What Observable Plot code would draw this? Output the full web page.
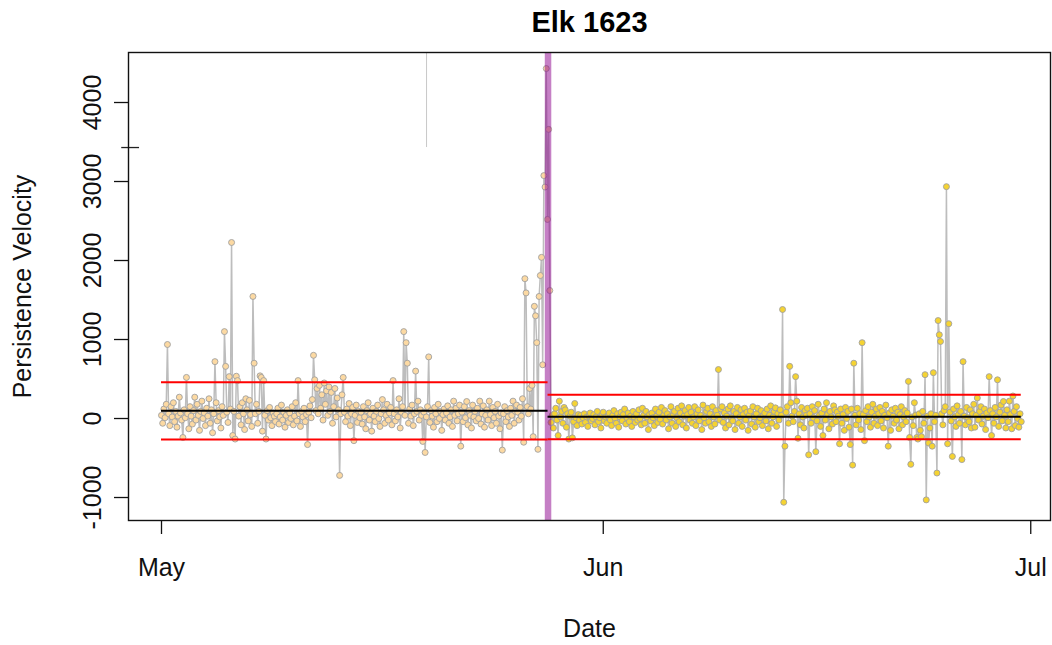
<!DOCTYPE html>
<html><head><meta charset="utf-8">
<script src="https://cdn.jsdelivr.net/npm/d3@7"></script>
<script src="https://cdn.jsdelivr.net/npm/@observablehq/plot@0.6"></script>
<style>body{margin:0;background:#fff}svg{display:block}</style>
</head><body><div id="chart"></div>
<script>
// ---- data ----
const title = "Elk 1623";
const xLabel = "Date";
const yLabel = "Persistence Velocity";
const startTime = "2019-05-01T00:00Z";   // first fix
const stepHours = 2;                      // fix interval
// segment 1 (before change point), one row per day
const seg1 = [
 40,-60,120,10,180,937,60,-90,150,20,200,-40,
 90,-110,30,270,70,-20,-240,110,10,520,60,-130,
 150,30,-70,100,270,-20,180,40,-150,90,220,0,
 70,-90,130,30,250,-60,110,-180,60,720,200,-30,
 100,20,-120,150,40,1100,660,80,-50,530,120,2228,
 -215,90,-260,535,480,30,150,-80,200,60,-140,250,
 110,-30,230,50,-100,1545,700,60,180,-60,90,540,
 520,-160,480,40,-260,100,-20,140,10,-90,70,30,
 -40,60,130,-70,20,170,-20,80,-110,40,110,-50,
 70,0,150,-80,30,200,-30,480,60,-100,90,20,
 130,-40,50,-330,80,160,10,240,800,490,100,380,
 60,420,130,300,-20,450,180,350,40,400,90,330,
 -60,150,380,20,260,110,-720,60,300,520,80,-40,
 120,30,190,-90,60,140,-280,40,170,-50,90,10,
 80,-70,150,20,-130,100,200,-20,60,-160,130,30,
 -40,90,170,0,-100,60,240,110,-60,40,180,-20,
 70,140,-80,480,60,-30,110,20,250,-120,80,150,
 1100,40,960,700,-60,120,30,170,-90,60,600,90,
 220,-20,110,40,-290,80,-430,20,150,780,-50,100,
 30,-110,140,60,-40,180,0,90,-150,50,120,-20,
 70,160,-60,20,110,-100,220,40,130,-30,60,170,
 -350,80,-40,150,10,215,-80,100,40,-120,170,20,
 90,-30,130,0,220,-70,60,160,-110,40,110,-20,
 220,50,-90,140,10,90,-60,180,30,-130,70,-400,
 60,150,-40,100,20,-100,130,40,220,-60,90,170,
 80,-20,140,30,250,-300,1770,1590,150,60,380,120,
 420,-230,1420,1300,960,-390,1545,1810,2040,680,3075,2930,
 4430,2520,3660,1620
];
// segment 2 (after change point), continues the same fix sequence
const seg2 = [
 -50,40,-120,60,130,-20,-215,220,20,90,-60,140,
 110,-110,60,-260,30,80,-245,-40,190,10,-90,50,
 -20,40,-70,10,60,-50,20,-100,30,70,-30,0,
 50,-80,20,90,-40,10,-120,40,80,-30,20,-60,
 30,70,-20,-90,40,100,0,-60,60,-110,20,80,
 -30,50,120,-70,10,70,-40,30,-100,90,20,-50,
 60,-20,110,0,-80,130,40,-60,90,20,-140,50,
 -30,70,10,-90,120,30,-50,80,-10,140,-70,40,
 100,-20,60,-130,20,150,-60,40,90,-100,10,130,
 -40,70,160,-80,30,100,-120,50,140,-20,80,-60,
 20,150,-90,60,110,-30,40,-140,170,10,-60,90,
 130,-40,60,-100,150,20,-70,100,40,620,-20,120,
 150,-50,70,-120,30,120,-80,160,10,-30,90,-140,
 60,140,-60,20,110,-100,50,130,-20,80,-150,40,
 95,-70,150,20,-110,60,130,-40,10,100,-90,40,
 70,-30,120,-130,40,160,-60,20,90,135,-100,60,
 -20,110,40,1380,-1060,-350,80,150,-60,660,200,30,
 -40,90,530,220,-250,60,-80,140,20,-120,100,40,
 130,-460,60,-60,150,10,100,-420,-30,180,40,-100,
 70,-215,120,-20,200,50,-130,90,20,-70,160,110,
 -40,80,30,-320,120,-60,50,-150,140,0,90,-110,
 -330,120,-590,700,40,-80,130,-20,60,-140,960,50,
 -280,100,-40,150,20,-110,80,180,-60,30,120,-90,
 60,140,-30,90,-120,40,170,10,-350,70,-150,110,
 30,-60,130,-20,80,-130,50,150,-80,20,100,-40,
 70,470,-240,-580,20,-90,200,40,-240,-260,60,-150,
 -230,90,-60,555,-1030,30,-310,-120,60,-350,580,-40,
 40,-690,1240,1060,975,60,-80,100,150,2935,-320,1200,
 80,-30,-480,120,20,-100,160,50,-60,90,-520,720,
 30,-80,140,10,-40,110,-120,60,180,-110,40,260,
 -20,90,150,-70,30,120,-140,70,10,530,100,-215,
 60,-60,140,20,490,-100,80,170,-30,215,40,-120,
 110,-40,220,50,-130,285,90,-90,150,0,-110,60,
 -40
];
const changePoint = "2019-05-28T03:00Z";
const segMean  = [97, 21];
const segUpper = [460, 300];
const segLower = [-266, -264];
const xTicks = ["2019-05-01", "2019-06-01", "2019-07-01"];
const xTickLabels = ["May", "Jun", "Jul"];
const yTicks = [-1000, 0, 1000, 2000, 3000, 4000];
// stray marks present in the original figure
const strayTime = "2019-05-19T14:24Z";
const strayRange = [3430, 4700];
const strayTickY = 3430;
const strayTickX = ["2019-04-28T05:00Z", "2019-04-29T11:00Z"];

// ---- build table ----
const t0 = new Date(startTime).getTime();
const H = 3600e3;
const all = [];
seg1.forEach((v, i) => all.push({t: new Date(t0 + i*stepHours*H), v, seg: 1}));
seg2.forEach((v, j) => all.push({t: new Date(t0 + (seg1.length + j)*stepHours*H), v, seg: 2}));
const pts1 = all.filter(d => d.seg === 1), pts2 = all.filter(d => d.seg === 2);
const cp = new Date(changePoint);
const stats = [
  {x1: pts1[0].t, x2: cp, mean: segMean[0], up: segUpper[0], lo: segLower[0]},
  {x1: cp, x2: pts2[pts2.length-1].t, mean: segMean[1], up: segUpper[1], lo: segLower[1]}
];

const FONT = "Liberation Sans, Arial, Helvetica, sans-serif";
const chart = Plot.plot({
  width: 1052, height: 645,
  marginLeft: 128, marginRight: 2, marginTop: 52, marginBottom: 125,
  style: {fontFamily: FONT, background: "#fff"},
  x: {type: "utc", domain: [new Date("2019-04-28T16:25Z"), new Date("2019-07-02T09:16Z")]},
  y: {domain: [-1291, 4633]},
  marks: [
    Plot.ruleX([new Date(strayTime)], {y1: strayRange[0], y2: strayRange[1], stroke: "#c8c8c8", strokeWidth: 1, clip: true}),
    Plot.ruleY([strayTickY], {x1: new Date(strayTickX[0]), x2: new Date(strayTickX[1]), stroke: "#222", strokeWidth: 1.3}),
    Plot.line(all, {x: "t", y: "v", stroke: "#bdbdbd", strokeWidth: 1.5}),
    Plot.dot(pts1, {x: "t", y: "v", r: 3, fill: "#fcd9a2", stroke: "#a0a0a0", strokeWidth: 0.9}),
    Plot.dot(pts2, {x: "t", y: "v", r: 3, fill: "#f5d332", stroke: "#a0a0a0", strokeWidth: 0.9}),
    Plot.ruleX([cp], {stroke: "#8b008b", strokeOpacity: 0.5, strokeWidth: 6.5}),
    Plot.ruleY(stats, {y: "up", x1: "x1", x2: "x2", stroke: "#ff0000", strokeWidth: 2}),
    Plot.ruleY(stats, {y: "lo", x1: "x1", x2: "x2", stroke: "#ff0000", strokeWidth: 2}),
    Plot.ruleY(stats, {y: "mean", x1: "x1", x2: "x2", stroke: "#000", strokeWidth: 2}),
    Plot.frame({stroke: "#111", strokeWidth: 1.4}),
    Plot.axisX(xTicks.map(d => new Date(d)), {tickSize: 14, tickPadding: 24, fontSize: 25, stroke: "#111", strokeWidth: 1.3,
      tickFormat: (d, i) => xTickLabels[i], label: null, color: "#111"}),
    Plot.axisY(yTicks, {tickSize: 14, tickFormat: () => "", label: null, stroke: "#111", strokeWidth: 1.3}),
    Plot.text(yTicks, {y: d => d, text: d => String(d), frameAnchor: "left", dx: -36, rotate: -90, fontSize: 25, fill: "#111", textAnchor: "middle"}),
    Plot.text([yLabel], {frameAnchor: "left", dx: -106, rotate: -90, fontSize: 25, fill: "#111", textAnchor: "middle"}),
    Plot.text([xLabel], {frameAnchor: "bottom", dy: 116, fontSize: 25, fill: "#111"}),
    Plot.text([title], {frameAnchor: "top", dy: -41, fontSize: 29, fontWeight: "bold", fill: "#000"})
  ]
});
document.getElementById("chart").append(chart);
</script>
</body></html>
